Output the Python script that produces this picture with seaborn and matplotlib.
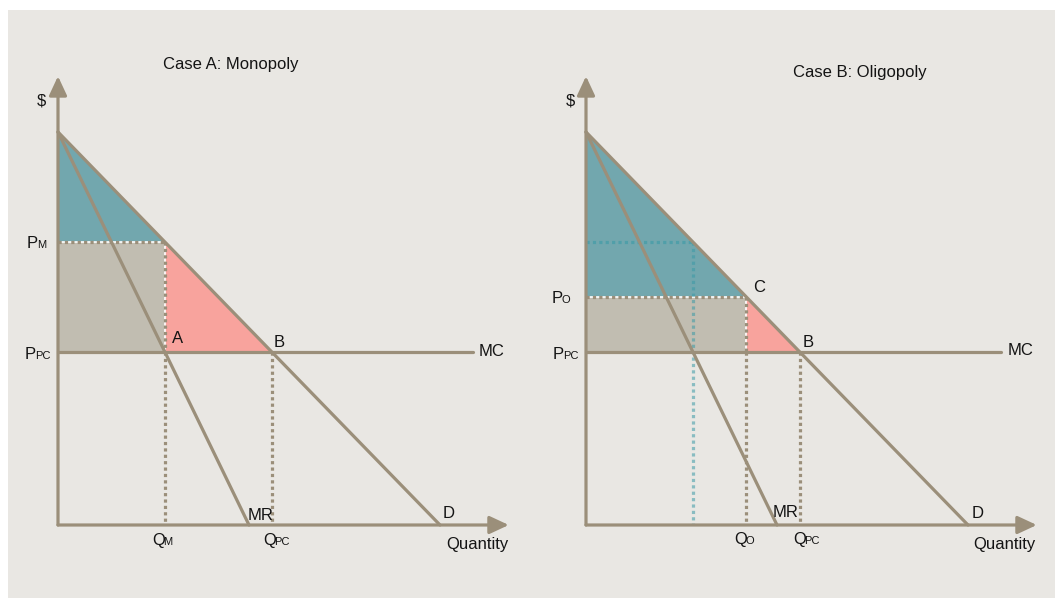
import matplotlib
matplotlib.use("Agg")
import matplotlib.pyplot as plt
from matplotlib.patches import Rectangle
import seaborn as sns

# Linear demand P = 10 - Q, marginal revenue P = 10 - 2Q, flat marginal cost
demand_q = [0.0, 10.0]
demand_p = [10.0, 0.0]
mr_q = [0.0, 5.0]
mr_p = [10.0, 0.0]
mc_price = 4.4
mc_q_end = 10.87
q_monopoly = 2.8
p_monopoly = 7.2
q_oligopoly = 4.2
p_oligopoly = 5.8
q_competitive = 5.6
axis_q_end = 11.8
axis_p_end = 11.42

panel_titles = ["Case A: Monopoly", "Case B: Oligopoly"]

# Colours
BG = "#E9E7E3"
LINE = "#9B8F7A"
TEAL = "#72A7AE"
GREY = "#C1BDB1"
PINK = "#F8A39D"
TEAL_DOT = "#3A9AA6"
TXT = "#141414"

sns.set_theme(style="white")
plt.rcParams["font.family"] = ["Liberation Sans", "DejaVu Sans"]

W, H = 1055, 598
PXQ, PXP = 38.2, 39.3  # pixels per unit of quantity / price

fig = plt.figure(figsize=(W / 100, H / 100), dpi=100, facecolor="white")
fig.patches.append(Rectangle((8 / W, 0), 1 - 8 / W, (H - 10) / H,
                             transform=fig.transFigure, facecolor=BG,
                             edgecolor="none", zorder=-1))


def make_panel(x0, x1, ox, oy):
    ax = fig.add_axes([x0 / W, 0, (x1 - x0) / W, 1])
    ax.set_xlim((x0 - ox) / PXQ, (x1 - ox) / PXQ)
    ax.set_ylim(-(H - oy) / PXP, oy / PXP)
    ax.axis("off")
    ax.patch.set_alpha(0)
    return ax


def label(ax, xy, text, off, sub=None, ha="left", va="baseline", size=12):
    t = ax.annotate(text, xy=xy, xytext=off, textcoords="offset pixels",
                    ha=ha, va=va, fontsize=size, color=TXT, zorder=10)
    if sub:
        ax.annotate(sub, xy=(1, 0), xycoords=t, xytext=(-1.5, 0.9),
                    textcoords="offset pixels", ha="left", va="bottom",
                    fontsize=8, color=TXT, zorder=10)
    return t


def dotted(ax, xs, ys, color=LINE, under=False, alpha=1.0):
    if under:
        ax.plot(xs, ys, color="white", lw=1.2, zorder=3,
                solid_capstyle="butt")
    ax.plot(xs, ys, color=color, lw=2.3, ls=(0, (1, 1)), zorder=4,
            dash_capstyle="butt", alpha=alpha)


def base_curves(ax):
    kw = dict(ax=ax, color=LINE, lw=2.3, zorder=6, legend=False)
    sns.lineplot(x=demand_q, y=demand_p, **kw)
    sns.lineplot(x=mr_q, y=mr_p, **kw)
    sns.lineplot(x=[0.0, mc_q_end], y=[mc_price, mc_price], **kw)
    arrow = dict(arrowstyle="-|>,head_length=0.58,head_width=0.27",
                 mutation_scale=20, lw=2.3, color=LINE,
                 shrinkA=0, shrinkB=0)
    ax.annotate("", xy=(axis_q_end, 0), xytext=(0, 0), arrowprops=arrow,
                zorder=7)
    ax.annotate("", xy=(0, axis_p_end), xytext=(0, 0), arrowprops=arrow,
                zorder=7)


def surplus_areas(ax, q, p):
    ax.fill([0, 0, q], [demand_p[0], p, p], color=TEAL, lw=0, zorder=1)
    ax.fill([0, q, q, 0], [mc_price, mc_price, p, p], color=GREY, lw=0,
            zorder=1)
    ax.fill([q, q, q_competitive], [p, mc_price, mc_price], color=PINK,
            lw=0, zorder=1)
    dotted(ax, [0, q], [p, p], under=True)
    dotted(ax, [q, q], [p, mc_price], under=True)
    dotted(ax, [q, q], [mc_price, 0])
    dotted(ax, [q_competitive, q_competitive], [mc_price, 0])


# ---- Case A: Monopoly ----
axA = make_panel(0, 527, 58, 525)
surplus_areas(axA, q_monopoly, p_monopoly)
base_curves(axA)
label(axA, (0, axis_p_end), "$", (-17, -25), ha="center", va="center")
label(axA, (0, axis_p_end), panel_titles[0], (105, 7))
label(axA, (0, p_monopoly), "P", (-31, -6), sub="M")
label(axA, (0, mc_price), "P", (-33, -7), sub="PC")
label(axA, (q_monopoly, mc_price), "A", (7, 9))
label(axA, (q_competitive, mc_price), "B", (2, 5))
label(axA, (mc_q_end, mc_price), "MC", (5, 1), va="center")
label(axA, (mr_q[1], 0), "MR", (-1, 5))
label(axA, (demand_q[1], 0), "D", (3, 7))
label(axA, (q_monopoly, 0), "Q", (-13, -20), sub="M")
label(axA, (q_competitive, 0), "Q", (-9, -20), sub="PC")
label(axA, (axis_q_end, 0), "Quantity", (0, -24), ha="right")

# ---- Case B: Oligopoly ----
axB = make_panel(527, W, 586, 525)
surplus_areas(axB, q_oligopoly, p_oligopoly)
# monopoly benchmark shown in teal
dotted(axB, [0, q_monopoly], [p_monopoly, p_monopoly], color=TEAL_DOT,
       alpha=0.6)
dotted(axB, [q_monopoly, q_monopoly], [p_monopoly, 0], color=TEAL_DOT,
       alpha=0.55)
base_curves(axB)
label(axB, (0, axis_p_end), "$", (-16, -25), ha="center", va="center")
label(axB, (0, axis_p_end), panel_titles[1], (207, -1))
label(axB, (0, p_oligopoly), "P", (-34, -6), sub="O")
label(axB, (0, mc_price), "P", (-33, -7), sub="PC")
label(axB, (q_oligopoly, p_oligopoly), "C", (7, 5))
label(axB, (q_competitive, mc_price), "B", (3, 5))
label(axB, (mc_q_end, mc_price), "MC", (6, 2), va="center")
label(axB, (mr_q[1], 0), "MR", (-4, 8))
label(axB, (demand_q[1], 0), "D", (4, 7))
label(axB, (q_oligopoly, 0), "Q", (-12, -19), sub="O")
label(axB, (q_competitive, 0), "Q", (-7, -19), sub="PC")
label(axB, (axis_q_end, 0), "Quantity", (-1, -24), ha="right")

fig.savefig("out.png", dpi=100, facecolor="white")
